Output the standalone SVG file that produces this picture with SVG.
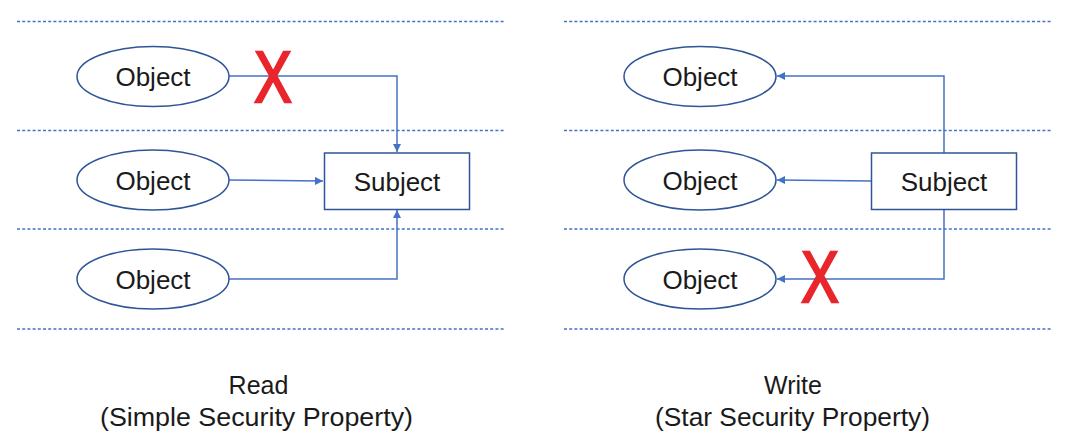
<svg xmlns="http://www.w3.org/2000/svg" width="1068" height="443" viewBox="0 0 1068 443">
<defs>
<style>
.sep{stroke:#4472C4;stroke-width:1.5;stroke-dasharray:3 2.2;fill:none}
.node{fill:#fff;stroke:#2F5597;stroke-width:1.5}
.lbl{font-family:"Liberation Sans",Arial,sans-serif;font-size:26px;fill:#1a1a1a;text-anchor:middle}
.conn{stroke:#4472C4;stroke-width:1.5;fill:none}
.x{font-family:"Liberation Sans",Arial,sans-serif;font-size:72px;fill:#E8262B;stroke:#E8262B;stroke-width:2.5;text-anchor:middle}
.cap{font-family:"Liberation Sans",Arial,sans-serif;font-size:25px;fill:#1a1a1a;text-anchor:middle}
</style>
<marker id="arr" viewBox="0 0 10 10" refX="10" refY="5" markerWidth="5.5" markerHeight="5.5" orient="auto" markerUnits="strokeWidth">
<path d="M0,0 L10,5 L0,10 z" fill="#4472C4"/>
</marker>
</defs>
<rect width="1068" height="443" fill="#fff"/>
<g id="separators">
<line class="sep" x1="17" y1="21.5" x2="505" y2="21.5"/>
<line class="sep" x1="17" y1="130.5" x2="505" y2="130.5"/>
<line class="sep" x1="17" y1="229" x2="505" y2="229"/>
<line class="sep" x1="17" y1="329" x2="505" y2="329"/>
<line class="sep" x1="564" y1="21.5" x2="1052" y2="21.5"/>
<line class="sep" x1="564" y1="130.5" x2="1052" y2="130.5"/>
<line class="sep" x1="564" y1="229" x2="1052" y2="229"/>
<line class="sep" x1="564" y1="329" x2="1052" y2="329"/>
</g>
<g id="connectors">
<polyline class="conn" points="229,76 397,76 397,152" marker-end="url(#arr)"/>
<line class="conn" x1="229" y1="180" x2="323" y2="181" marker-end="url(#arr)"/>
<polyline class="conn" points="229,279 397,279 397,210" marker-end="url(#arr)"/>
<polyline class="conn" points="944,153 944,76 777,76" marker-end="url(#arr)"/>
<line class="conn" x1="871" y1="181" x2="777" y2="180" marker-end="url(#arr)"/>
<polyline class="conn" points="944,209 944,279 777,279" marker-end="url(#arr)"/>
</g>
<g id="obj-read-top"><ellipse class="node" cx="153" cy="76.5" rx="76" ry="30"/><text class="lbl" x="153" y="86">Object</text></g>
<g id="obj-read-mid"><ellipse class="node" cx="153" cy="180" rx="76" ry="30"/><text class="lbl" x="153" y="189.5">Object</text></g>
<g id="obj-read-bot"><ellipse class="node" cx="153" cy="279" rx="76" ry="30"/><text class="lbl" x="153" y="288.5">Object</text></g>
<g id="subj-read"><rect class="node" x="324.5" y="153" width="145" height="56.5"/><text class="lbl" x="397" y="190.5">Subject</text></g>
<g id="obj-write-top"><ellipse class="node" cx="700" cy="76.5" rx="76" ry="30"/><text class="lbl" x="700" y="86">Object</text></g>
<g id="obj-write-mid"><ellipse class="node" cx="700" cy="180" rx="76" ry="30"/><text class="lbl" x="700" y="189.5">Object</text></g>
<g id="obj-write-bot"><ellipse class="node" cx="700" cy="279" rx="76" ry="30"/><text class="lbl" x="700" y="288.5">Object</text></g>
<g id="subj-write"><rect class="node" x="871.5" y="153" width="145" height="56.5"/><text class="lbl" x="944" y="190.5">Subject</text></g>
<g id="deny-read"><text class="x" transform="translate(273 102) scale(0.78 1)">X</text></g>
<g id="deny-write"><text class="x" transform="translate(820 302) scale(0.78 1)">X</text></g>
<g id="captions">
<text class="cap" x="258.5" y="394">Read</text>
<text class="cap" x="256.5" y="426" textLength="313" lengthAdjust="spacingAndGlyphs">(Simple Security Property)</text>
<text class="cap" x="793" y="394">Write</text>
<text class="cap" x="792.5" y="426" textLength="275" lengthAdjust="spacingAndGlyphs">(Star Security Property)</text>
</g>
</svg>
